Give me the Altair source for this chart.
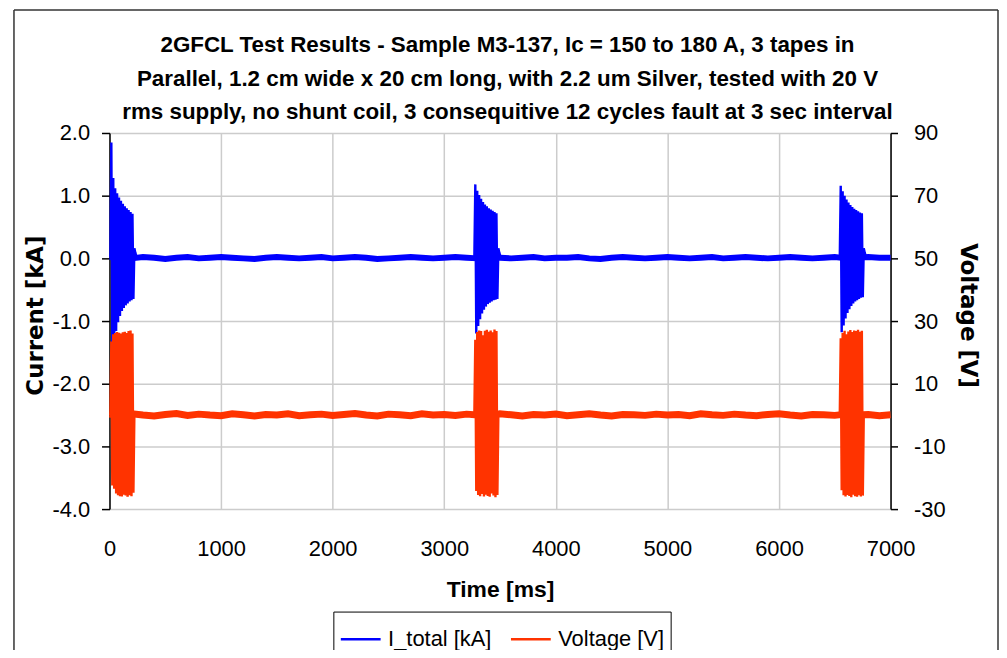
import altair as alt
import pandas as pd

# ---------------- data ----------------
title_lines = [
    "2GFCL Test Results - Sample M3-137, Ic = 150 to 180 A, 3 tapes in",
    "Parallel, 1.2 cm wide x 20 cm long, with 2.2 um Silver, tested with 20 V",
    "rms supply, no shunt coil, 3 consequitive 12 cycles fault at 3 sec interval",
]
series_names = ["I_total [kA]", "Voltage [V]"]
series_colors = ["#0000FF", "#FF3300"]
x_ticks = [0, 1000, 2000, 3000, 4000, 5000, 6000, 7000]
current_ticks = [-4, -3, -2, -1, 0, 1, 2]
voltage_ticks = [-30, -10, 10, 30, 50, 70, 90]

# baseline (no fault) samples, every 100 ms from 0 to 7000 ms
baseline_step_ms = 100
current_baseline = [
    0.02, 0.01, 0.00, 0.02, 0.01, -0.01, 0.01, 0.02, 0.00, 0.01,
    0.02, 0.01, 0.00, -0.01, 0.01, 0.02, 0.01, 0.00, 0.01, 0.02,
    0.00, 0.01, 0.02, 0.01, -0.01, 0.00, 0.01, 0.02, 0.01, 0.00,
    0.01, 0.02, 0.01, 0.00, 0.02, 0.01, 0.00, 0.01, 0.02, 0.00,
    0.01, 0.01, 0.02, 0.00, -0.01, 0.01, 0.02, 0.01, 0.00, 0.01,
    0.02, 0.01, 0.00, 0.01, 0.02, 0.00, 0.01, 0.02, 0.01, 0.00,
    0.01, 0.02, 0.01, 0.00, 0.01, 0.02, 0.00, 0.01, 0.02, 0.01,
    0.01,
]
voltage_baseline = [
    0.3, -0.2, 0.4, 0.0, -0.3, 0.2, 0.5, -0.1, 0.3, 0.0,
    -0.2, 0.4, 0.1, -0.3, 0.2, 0.0, 0.4, -0.2, 0.1, 0.3,
    -0.1, 0.2, 0.5, 0.0, -0.3, 0.3, 0.1, -0.2, 0.4, 0.0,
    0.2, -0.1, 0.3, 0.0, -0.2, 0.4, 0.1, -0.3, 0.2, 0.0,
    0.3, -0.2, 0.1, 0.4, 0.0, -0.3, 0.2, 0.1, -0.1, 0.3,
    0.0, 0.2, -0.2, 0.4, 0.1, -0.1, 0.3, 0.0, -0.2, 0.2,
    0.4, 0.0, -0.3, 0.2, 0.1, -0.1, 0.3, 0.0, 0.2, -0.2,
    0.1,
]

# three 12-cycle faults: start times and half-cycle peak values
fault_start_ms = [8, 3270, 6545]
half_cycle_ms = 8.6
current_pos_peaks = [
    [1.85, 1.28, 1.12, 1.04, 0.97, 0.92, 0.87, 0.83, 0.80, 0.77, 0.74, 0.71],
    [1.18, 1.08, 1.01, 0.95, 0.90, 0.86, 0.83, 0.80, 0.78, 0.76, 0.74, 0.72],
    [1.16, 1.07, 1.00, 0.94, 0.89, 0.85, 0.82, 0.79, 0.77, 0.75, 0.73, 0.72],
]
current_neg_peaks = [
    [-1.47, -1.38, -1.16, -1.02, -0.92, -0.84, -0.79, -0.75, -0.72, -0.69, -0.67, -0.65],
    [-1.20, -1.08, -0.97, -0.88, -0.82, -0.77, -0.73, -0.71, -0.69, -0.67, -0.66, -0.65],
    [-1.18, -1.07, -0.96, -0.87, -0.81, -0.76, -0.72, -0.69, -0.67, -0.65, -0.63, -0.62],
]
current_tail = [0.16, 0.09, 0.04]
voltage_pos_peaks = [
    [23.5, 25.8, 26.2, 26.5, 26.3, 26.0, 26.4, 26.6, 26.2, 26.8, 27.0, 26.0],
    [24.0, 26.5, 27.0, 26.8, 25.5, 26.9, 27.2, 26.6, 27.0, 26.4, 27.3, 26.8],
    [24.5, 26.2, 26.9, 25.8, 26.7, 27.1, 26.5, 27.0, 26.8, 27.2, 26.6, 26.9],
]
voltage_neg_peaks = [
    [-22.5, -23.5, -25.0, -25.6, -25.9, -26.0, -25.4, -25.7, -26.1, -25.6, -25.9, -24.8],
    [-24.2, -25.5, -25.9, -25.2, -26.0, -25.4, -25.8, -26.1, -25.0, -25.7, -26.2, -25.5],
    [-24.0, -25.6, -26.0, -25.5, -25.8, -26.2, -25.4, -25.9, -26.1, -25.6, -26.0, -25.7],
]

# ---------------- build tables ----------------
def baseline_table(vals, name):
    return pd.DataFrame({
        "time": [i * baseline_step_ms for i in range(len(vals))],
        "value": vals,
        "series": name,
    })

def fault_table(pos, neg, name, lead, tail):
    rows = []
    for f, t0 in enumerate(fault_start_ms):
        seq = [lead]
        for p, n in zip(pos[f], neg[f]):
            seq += [p, n]
        seq += tail
        for k, v in enumerate(seq):
            rows.append({"time": t0 + k * half_cycle_ms, "value": v, "series": name, "fault": f})
    return pd.DataFrame(rows)

cur_base = baseline_table(current_baseline, series_names[0])
volt_base = baseline_table(voltage_baseline, series_names[1])
cur_fault = fault_table(current_pos_peaks, current_neg_peaks, series_names[0], 0.02, current_tail)
volt_fault = fault_table(voltage_pos_peaks, voltage_neg_peaks, series_names[1], 0.0, [0.0])

# ---------------- encodings ----------------
FONT = "Liberation Sans"
WIDE_BOLD = "DejaVu Sans"
color = alt.Color(
    "series:N",
    scale=alt.Scale(domain=series_names, range=series_colors),
    legend=alt.Legend(
        title=None, orient="none", legendX=225, legendY=481, direction="horizontal",
        symbolType="stroke", symbolSize=1600, symbolStrokeWidth=2.5,
        labelFontSize=22, labelFont=FONT, labelColor="black", labelOffset=6,
        strokeColor="black", padding=6, columnPadding=14,
    ),
)
x = alt.X(
    "time:Q",
    scale=alt.Scale(domain=[0, 7000], nice=False, zero=False),
    axis=alt.Axis(
        values=x_ticks, format="d", title="Time [ms]", ticks=False, domain=False,
        grid=True, labelPadding=30, titlePadding=19, labelFlush=False,
    ),
)
y_cur = alt.Y(
    "value:Q",
    scale=alt.Scale(domain=[-4, 2], nice=False, zero=False),
    axis=alt.Axis(
        values=current_ticks, format=".1f", labelExpr="replace(datum.label, '\u2212', '-')",
        orient="left", title="Current [kA]", grid=True, tickSize=8, labelPadding=12,
        titleX=-62, titleY=183, titleFont=WIDE_BOLD,
    ),
)
y_volt = alt.Y(
    "value:Q",
    scale=alt.Scale(domain=[-30, 90], nice=False, zero=False),
    axis=alt.Axis(
        values=voltage_ticks, format="d", labelExpr="replace(datum.label, '\u2212', '-')",
        orient="right", title="Voltage [V]", grid=False, tickSize=7, labelPadding=16,
        titleX=65, titleY=183, titleAngle=90, titleFont=WIDE_BOLD,
    ),
)

cur_layer = alt.layer(
    alt.Chart(cur_base).mark_line(strokeWidth=6).encode(x=x, y=y_cur, color=color),
    alt.Chart(cur_fault).mark_line(strokeWidth=2.4).encode(x=x, y=y_cur, color=color, detail="fault:N"),
)
volt_layer = alt.layer(
    alt.Chart(volt_base).mark_line(strokeWidth=7).encode(x=x, y=y_volt, color=color),
    alt.Chart(volt_fault).mark_line(strokeWidth=2.4).encode(x=x, y=y_volt, color=color, detail="fault:N"),
)

one = pd.DataFrame({"k": [0]})
frame_left = alt.Chart(one).mark_rule(color="#333333", strokeWidth=1.5).encode(
    x=alt.value(-96), y=alt.value(-123.5), y2=alt.value(520))
frame_top = alt.Chart(one).mark_rule(color="#333333", strokeWidth=1.5).encode(
    x=alt.value(-96), x2=alt.value(893), y=alt.value(-123.5))
frame_right = alt.Chart(one).mark_rule(color="#333333", strokeWidth=1.5).encode(
    x=alt.value(893), y=alt.value(-123.5), y2=alt.value(520))

title_text = alt.Chart(one).mark_text(
    text=title_lines, font=FONT, fontSize=22.5, fontWeight="bold",
    lineHeight=33.5, align="center", baseline="top", color="black",
).encode(x=alt.value(400), y=alt.value(-99))

chart = (
    alt.layer(cur_layer, volt_layer, frame_left, frame_top, frame_right, title_text)
    .resolve_scale(y="independent")
    .properties(
        width=785, height=378,
        padding={"left": 102, "top": 124, "right": 109, "bottom": 140},
        autosize=alt.AutoSizeParams(type="none"),
        background="white",
    )
    .configure_view(stroke=None)
    .configure_axis(
        labelFont=FONT, titleFont=FONT, labelFontSize=22, titleFontSize=23,
        titleFontWeight="bold", labelColor="black", titleColor="black",
        domainColor="black", domainWidth=1.5, tickColor="black", tickWidth=1.5,
        gridColor="#cccccc", gridWidth=1.5,
    )
)

chart.save("out.html", embed_options={"renderer": "svg", "actions": False})
